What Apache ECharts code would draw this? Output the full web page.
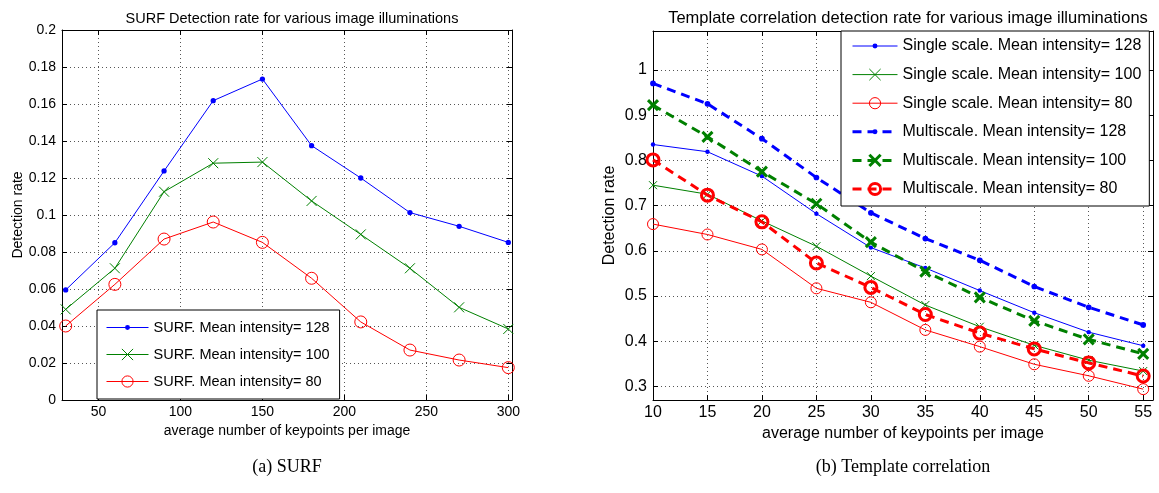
<!DOCTYPE html>
<html><head><meta charset="utf-8">
<script src="https://cdn.jsdelivr.net/npm/echarts@6/dist/echarts.min.js"></script>
<style>html,body{margin:0;padding:0;background:#fff}#c{width:1159px;height:493px}</style>
</head><body><div id="c"></div>
<script>
// ---------- data ----------
const surfX = [30, 60, 90, 120, 150, 180, 210, 240, 270, 300];
const surf128 = [0.0595, 0.085, 0.1238, 0.1618, 0.1735, 0.1375, 0.12, 0.1013, 0.0939, 0.0852];
const surf100 = [0.049, 0.0712, 0.1126, 0.128, 0.1286, 0.1076, 0.0895, 0.0712, 0.0501, 0.0384];
const surf80  = [0.04, 0.0625, 0.087, 0.0962, 0.0852, 0.0658, 0.0422, 0.027, 0.0216, 0.0175];

const tmplX = [10, 15, 20, 25, 30, 35, 40, 45, 50, 55];
const single128 = [0.835, 0.819, 0.765, 0.682, 0.607, 0.562, 0.512, 0.463, 0.42, 0.39];
const single100 = [0.745, 0.725, 0.666, 0.61, 0.544, 0.48, 0.432, 0.391, 0.358, 0.334];
const single80  = [0.659, 0.636, 0.603, 0.517, 0.486, 0.425, 0.388, 0.349, 0.3235, 0.294];
const multi128  = [0.97, 0.925, 0.848, 0.762, 0.684, 0.627, 0.579, 0.521, 0.475, 0.436];
const multi100  = [0.922, 0.852, 0.775, 0.704, 0.619, 0.554, 0.497, 0.445, 0.404, 0.372];
const multi80   = [0.801, 0.723, 0.664, 0.573, 0.519, 0.459, 0.418, 0.383, 0.352, 0.323];

const surfXTicks = [50, 100, 150, 200, 250, 300];
const surfYTicks = [0, 0.02, 0.04, 0.06, 0.08, 0.1, 0.12, 0.14, 0.16, 0.18, 0.2];
const tmplXTicks = [10, 15, 20, 25, 30, 35, 40, 45, 50, 55];
const tmplYTicks = [0.3, 0.4, 0.5, 0.6, 0.7, 0.8, 0.9, 1];

const surfNames = ['SURF. Mean intensity= 128', 'SURF. Mean intensity= 100', 'SURF. Mean intensity= 80'];
const tmplNames = ['Single scale. Mean intensity= 128', 'Single scale. Mean intensity= 100', 'Single scale. Mean intensity= 80',
                   'Multiscale. Mean intensity= 128', 'Multiscale. Mean intensity= 100', 'Multiscale. Mean intensity= 80'];
const titleTexts = ['SURF Detection rate for various image illuminations', 'Template correlation detection rate for various image illuminations'];
const xAxisName = 'average number of keypoints per image';
const yAxisName = 'Detection rate';
const captions = ['(a) SURF', '(b) Template correlation'];

// ---------- styling ----------
const FONT = 'Liberation Sans, Arial, Helvetica, sans-serif';
const BLUE = '#0000ff', GREEN = '#008000', RED = '#ff0000';
const DOT = 'path://M0,0M10,10M2.8,5A2.2,2.2,0,1,1,7.2,5A2.2,2.2,0,1,1,2.8,5Z';
const XMARK = 'path://M0,0L10,10M0,10L10,0';

function pairs(xs, ys) { return xs.map((x, i) => [x, ys[i]]); }

function xAxisCfg(grid, pos, min, max, ticks, main, fs, gap) {
  return {
    type: 'value', gridIndex: grid, position: pos, min: min, max: max,
    name: main ? xAxisName : '', nameLocation: 'middle', nameGap: gap,
    nameTextStyle: { fontSize: fs, color: '#000', fontFamily: FONT },
    axisLine: { show: true, onZero: false, lineStyle: { color: '#000', width: 1 } },
    axisTick: { show: true, inside: true, length: 5, customValues: ticks, lineStyle: { color: '#000' } },
    axisLabel: { show: main, customValues: ticks, color: '#000', fontSize: fs, fontFamily: FONT, margin: 5 },
    splitLine: { show: main, lineStyle: { color: '#555', width: 1, type: [1, 3] } }
  };
}
function yAxisCfg(grid, pos, min, max, ticks, main, fs, gap) {
  return {
    type: 'value', gridIndex: grid, position: pos, min: min, max: max,
    name: main ? yAxisName : '', nameLocation: 'middle', nameGap: gap,
    nameTextStyle: { fontSize: fs, color: '#000', fontFamily: FONT },
    axisLine: { show: true, onZero: false, lineStyle: { color: '#000', width: 1 } },
    axisTick: { show: true, inside: true, length: 5, customValues: ticks, lineStyle: { color: '#000' } },
    axisLabel: { show: main, customValues: ticks, color: '#000', fontSize: fs, fontFamily: FONT, margin: 6 },
    splitLine: { show: main, lineStyle: { color: '#555', width: 1, type: [1, 3] } }
  };
}

function ser(name, xi, yi, xs, ys, color, symbol, size, lw, bw, dashed) {
  return {
    name: name, type: 'line', xAxisIndex: xi, yAxisIndex: yi,
    data: pairs(xs, ys), symbol: symbol, symbolSize: size, showSymbol: true,
    animation: false, z: dashed ? 3 : 2,
    lineStyle: { color: color, width: lw, type: dashed ? [9, 6] : 'solid' },
    itemStyle: { color: symbol === DOT ? color : 'rgba(0,0,0,0)', borderColor: color, borderWidth: symbol === DOT ? 0 : bw },
    emphasis: { disabled: true }
  };
}

const series = [
  ser(surfNames[0], 0, 0, surfX, surf128, BLUE, DOT, 12, 1, 0, false),
  ser(surfNames[1], 0, 0, surfX, surf100, GREEN, XMARK, 10, 1, 1, false),
  ser(surfNames[2], 0, 0, surfX, surf80, RED, 'circle', 12, 1, 1, false),
  ser(tmplNames[0], 2, 2, tmplX, single128, BLUE, DOT, 10, 1, 0, false),
  ser(tmplNames[1], 2, 2, tmplX, single100, GREEN, XMARK, 8, 1, 1, false),
  ser(tmplNames[2], 2, 2, tmplX, single80, RED, 'circle', 11, 1, 1, false),
  ser(tmplNames[3], 2, 2, tmplX, multi128, BLUE, DOT, 13, 3, 0, true),
  ser(tmplNames[4], 2, 2, tmplX, multi100, GREEN, XMARK, 10, 3, 3, true),
  ser(tmplNames[5], 2, 2, tmplX, multi80, RED, 'circle', 12, 3, 3, true)
];

function legendData(names, list) {
  return names.map((n, i) => {
    const s = list[i];
    return { name: n,
      itemStyle: { borderWidth: s.itemStyle.borderWidth, borderColor: s.itemStyle.borderColor, color: s.itemStyle.color },
      lineStyle: { width: s.lineStyle.width, type: s.lineStyle.type, color: s.lineStyle.color } };
  });
}

const legendCommon = {
  orient: 'vertical', backgroundColor: '#fff', borderColor: '#000', borderWidth: 1,
  itemHeight: 14, selectedMode: false
};

const option = {
  backgroundColor: '#fff',
  animation: false,
  title: [
    { text: titleTexts[0], left: 287, textAlign: 'center', top: 6,
      textStyle: { fontSize: 14.5, fontWeight: 'normal', color: '#000', fontFamily: FONT } },
    { text: titleTexts[1], left: 903, textAlign: 'center', top: 5,
      textStyle: { fontSize: 16.5, fontWeight: 'normal', color: '#000', fontFamily: FONT } }
  ],
  grid: [
    { left: 62, top: 30, width: 450, height: 370 },
    { left: 653, top: 31, width: 500, height: 369 }
  ],
  xAxis: [
    xAxisCfg(0, 'bottom', 27.75, 302.25, surfXTicks, true, 14, 18),
    xAxisCfg(0, 'top', 27.75, 302.25, surfXTicks, false, 14, 0),
    xAxisCfg(1, 'bottom', 10, 55.9, tmplXTicks, true, 16, 17),
    xAxisCfg(1, 'top', 10, 55.9, tmplXTicks, false, 16, 0)
  ],
  yAxis: [
    yAxisCfg(0, 'left', 0, 0.2, surfYTicks, true, 14, 37),
    yAxisCfg(0, 'right', 0, 0.2, surfYTicks, false, 14, 0),
    yAxisCfg(1, 'left', 0.27, 1.086, tmplYTicks, true, 16, 35),
    yAxisCfg(1, 'right', 0.27, 1.086, tmplYTicks, false, 16, 0)
  ],
  legend: [
    Object.assign({}, legendCommon, { left: 97, top: 310, itemWidth: 42, itemGap: 12,
      padding: [10, 10, 10, 9], textStyle: { fontSize: 14.5, color: '#000', fontFamily: FONT },
      data: legendData(surfNames, series.slice(0, 3)) }),
    Object.assign({}, legendCommon, { left: 841, top: 31, itemWidth: 45, itemGap: 12.6,
      padding: [7, 8, 9, 10], textStyle: { fontSize: 16, color: '#000', fontFamily: FONT },
      data: legendData(tmplNames, series.slice(3)) })
  ],
  graphic: [
    { type: 'text', x: 287, y: 467, style: { text: captions[0], align: 'center', verticalAlign: 'middle',
      fontSize: 18, fontFamily: 'Liberation Serif, DejaVu Serif, serif', fill: '#000' } },
    { type: 'text', x: 903, y: 467, style: { text: captions[1], align: 'center', verticalAlign: 'middle',
      fontSize: 18, fontFamily: 'Liberation Serif, DejaVu Serif, serif', fill: '#000' } }
  ],
  series: series
};

const chart = echarts.init(document.getElementById('c'), null, { renderer: 'canvas' });
chart.setOption(option);
</script>
</body></html>
